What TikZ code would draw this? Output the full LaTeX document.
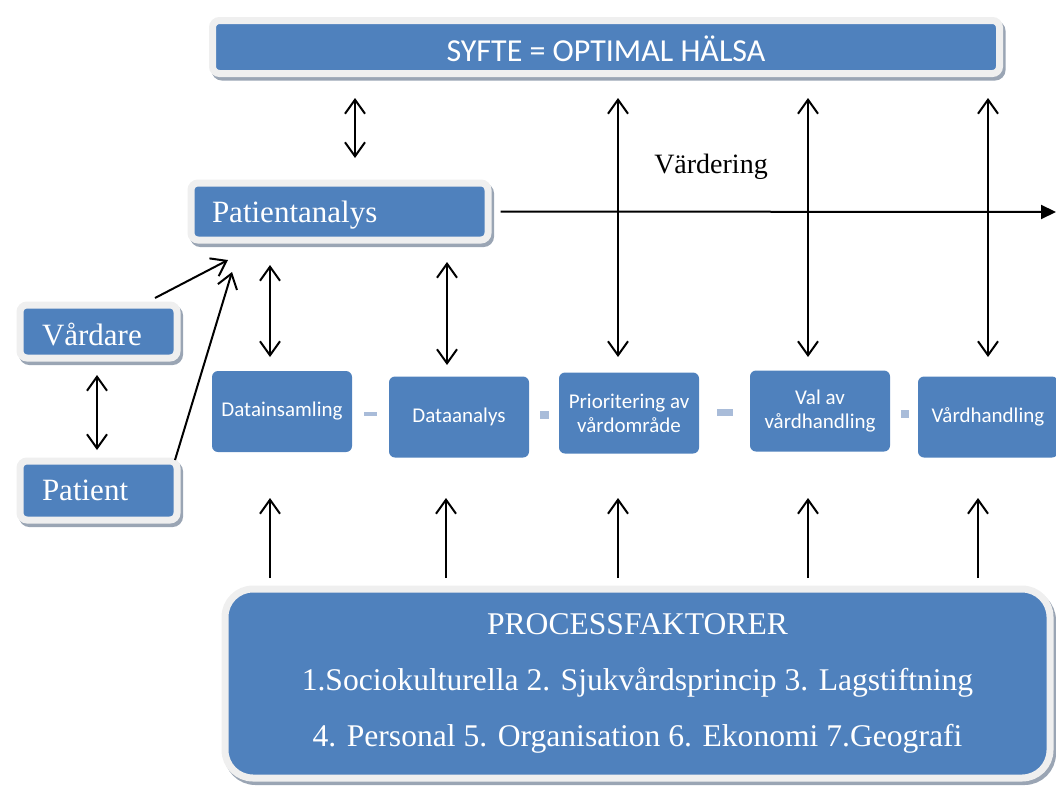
\documentclass[tikz,border=0pt]{standalone}
\usepackage{fontspec}
\setmainfont{Liberation Serif}
\newfontfamily\calfont{Carlito}
\usetikzlibrary{arrows.meta,shadows}
\definecolor{boxblue}{HTML}{4F81BD}
\definecolor{framegray}{HTML}{EFEFEF}
\definecolor{shadowgray}{HTML}{9AA5B4}
\definecolor{linkblue}{HTML}{A9BCD9}
\newcommand\lowerby[2]{\raisebox{-#1}[\height][\depth]{#2}}
\tikzset{
 framed/.style={fill=boxblue, draw=framegray, line width=7pt, rounded corners=7pt, inner sep=0pt, text=white,
   drop shadow={shadow xshift=2.5pt, shadow yshift=-3.5pt, fill=shadowgray, draw=shadowgray, line width=7pt, opacity=1}},
 stepbox/.style={fill=boxblue, rounded corners=6pt, minimum width=140pt, minimum height=81pt, inner sep=2pt,
   text=white, font=\calfont\fontsize{21}{24}\selectfont, align=center},
 link/.style={fill=linkblue, inner sep=0pt},
 dbl/.style={line width=2pt, {Straight Barb[length=14pt,width=20pt]}-{Straight Barb[length=14pt,width=20pt]}},
 one/.style={line width=2pt, -{Straight Barb[length=14pt,width=20pt]}},
}
\begin{document}
\begin{tikzpicture}[x=1pt,y=-1pt]
\useasboundingbox (0,0) rectangle (1056,785);
% framed boxes
\node[framed, minimum width=787pt, minimum height=53pt, font=\calfont\fontsize{32}{36}\selectfont] (syfte) at (606,47) {\lowerby{2pt}{SYFTE = OPTIMAL HÄLSA}};
\node[framed, minimum height=57pt, inner xsep=21pt, text width=255pt, align=left, font=\fontsize{31}{34}\selectfont] (pa) at (339.5,211.5) {\lowerby{4pt}{Patientanalys}};
\node[framed, minimum height=53pt, inner xsep=22pt, text width=113pt, align=left, font=\fontsize{31}{34}\selectfont] (vard) at (98.5,331.5) {\lowerby{3pt}{Vårdare}};
\node[framed, minimum height=59pt, inner xsep=22pt, text width=113pt, align=left, font=\fontsize{31}{34}\selectfont] (pat) at (98.5,490.5) {Patient};
\node[framed, rounded corners=28pt, minimum width=825pt, minimum height=189pt, align=center, font=\fontsize{31.6}{56}\selectfont] (pf) at (637.5,683.5)
 {PROCESSFAKTORER\\1.Sociokulturella 2. Sjukvårdsprincip 3. Lagstiftning\\4. Personal 5. Organisation 6. Ekonomi 7.Geografi};
% steps
\node[stepbox] (s1) at (282,411.5) {Datainsamling};
\node[stepbox] (s2) at (459,417) {Dataanalys};
\node[stepbox] (s3) at (629,413) {Prioritering av\\vårdområde};
\node[stepbox] (s4) at (820,411) {Val av\\vårdhandling};
\node[stepbox] (s5) at (988,417) {Vårdhandling};
\node[link, minimum width=13pt, minimum height=4pt] (l1) at (370.5,414) {};
\node[link, minimum width=9pt, minimum height=8pt] (l2) at (544.5,415) {};
\node[link, minimum width=16pt, minimum height=7pt] (l3) at (725,412) {};
\node[link, minimum width=8pt, minimum height=8pt] (l4) at (905,414) {};
% label
\node[font=\fontsize{28}{32}\selectfont, inner sep=0pt] (vd) at (711,167) {Värdering};
% coordinates
\coordinate (a0t) at (355,98);  \coordinate (a0b) at (355,158);
\coordinate (a3t) at (618,98);  \coordinate (a3b) at (618,357);
\coordinate (a4t) at (808,98);  \coordinate (a4b) at (808,357);
\coordinate (a5t) at (988,98);  \coordinate (a5b) at (988,357);
\coordinate (b1t) at (270,265); \coordinate (b1b) at (270,357);
\coordinate (b2t) at (447,262); \coordinate (b2b) at (447,365);
\coordinate (vpt) at (97,375);  \coordinate (vpb) at (97,450);
\coordinate (vs) at (155,298);  \coordinate (ve) at (228,260);
\coordinate (ps) at (175,460);  \coordinate (pe) at (232,272);
\coordinate (rend) at (1056,212);
\foreach \x/\n in {270/u1,446/u2,618/u3,808/u4,978/u5}{
  \coordinate (\n b) at (\x,578); \coordinate (\n t) at (\x,498);
}
% connectors
\draw[dbl] (a0t) -- (a0b);
\draw[dbl] (a3t) -- (a3b);
\draw[dbl] (a4t) -- (a4b);
\draw[dbl] (a5t) -- (a5b);
\draw[dbl] (b1t) -- (b1b);
\draw[dbl] (b2t) -- (b2b);
\draw[dbl] (vpt) -- (vpb);
\draw[one] (vs) -- (ve);
\draw[one] (ps) -- (pe);
\draw[line width=2pt, -{Triangle[length=15pt,width=14pt]}] ([xshift=9pt]pa.east) -- (rend);
\foreach \n in {u1,u2,u3,u4,u5}{ \draw[one] (\n b) -- (\n t); }
\end{tikzpicture}
\end{document}
